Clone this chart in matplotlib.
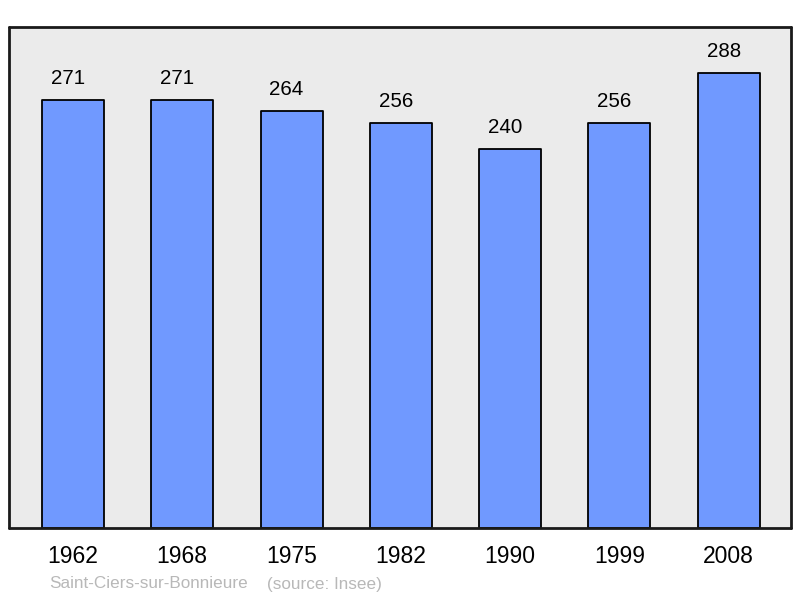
import matplotlib
matplotlib.use("Agg")
import matplotlib.pyplot as plt

years = ["1962", "1968", "1975", "1982", "1990", "1999", "2008"]
population = [271, 271, 264, 256, 240, 256, 288]
commune = "Saint-Ciers-sur-Bonnieure"
source = "(source: Insee)"

plt.rcParams['font.family'] = ['Liberation Sans', 'DejaVu Sans']

fig = plt.figure(figsize=(8.0, 5.98), dpi=100)
ax = fig.add_axes([9/800, 1 - 528/598, (791-9)/800, (528-27)/598])
ax.set_facecolor('#ebebeb')

x = list(range(len(years)))
bars = ax.bar(x, population, width=0.567, color='#7099ff', edgecolor='black',
              linewidth=1.3, zorder=2)
for b in bars:
    b.set_joinstyle('round')

for xi, v in zip(x, population):
    ax.annotate(str(v), (xi, v), xytext=(-5, 12), textcoords='offset pixels',
                ha='center', va='bottom', fontsize=14.8, color='black')

ax.set_xlim(-0.585, 6.57)
ax.set_ylim(0, 317)
ax.set_xticks(x)
ax.set_xticklabels(years, fontsize=16.5)
ax.tick_params(axis='x', length=0, pad=12)
ax.set_yticks([])
for s in ax.spines.values():
    s.set_linewidth(2)
    s.set_color('#1a1a1a')
    s.set_capstyle('round')

fig.text(49/800, 1 - 584/598, commune, fontsize=12.3, color='#b8b8b8', va='center', ha='left')
fig.text(267/800, 1 - 584/598, source, fontsize=12.3, color='#b8b8b8', va='center', ha='left')

fig.savefig("out.png", dpi=100)
